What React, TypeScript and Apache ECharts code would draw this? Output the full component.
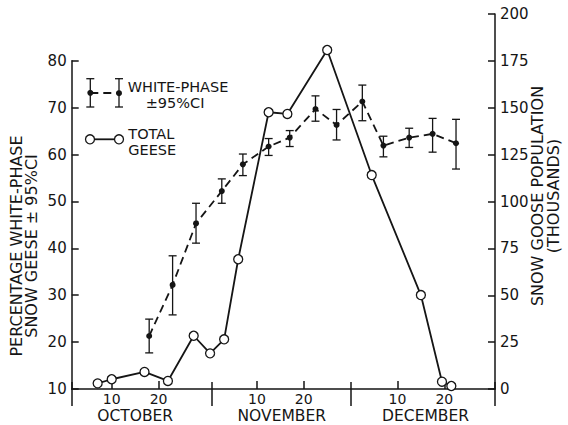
import React, { useEffect, useRef } from "react";
import * as echarts from "echarts";

// ---- data (x = day of season, 1 Oct = 1, 1 Nov = 32, 1 Dec = 62) ----
const wpDays = [18, 23, 28, 33.5, 38, 43.5, 48, 53.5, 58, 63.5, 68, 73.5, 78.5, 83.5];
const wpMean = [21.3, 32.2, 45.3, 52.2, 57.9, 61.7, 63.6, 69.7, 66.3, 71.3, 61.9, 63.6, 64.4, 62.4];
const wpLow = [17.7, 25.8, 41.1, 49.6, 55.5, 59.8, 61.7, 67.1, 63.1, 67.2, 59.5, 61.5, 60.5, 56.9];
const wpHigh = [24.9, 38.4, 49.6, 54.8, 60.1, 63.4, 65.1, 72.5, 69.6, 74.8, 63.9, 65.6, 67.7, 67.5];

const totalDays = [7, 10, 17, 22, 27.5, 31, 34, 37, 43.5, 47.5, 56, 65.5, 76, 80.5, 82.5];
const totalGeese = [3.0, 5.2, 9.1, 4.3, 28.4, 19.0, 26.5, 69.2, 147.6, 146.7, 180.8, 114.1, 50.1, 3.9, 1.6];

const leftTicks = [10, 20, 30, 40, 50, 60, 70, 80];
const rightTicks = [0, 25, 50, 75, 100, 125, 150, 175, 200];
const dayTicks = [10, 20, 41, 51, 71, 81];
const dayTickLabels = ["10", "20", "10", "20", "10", "20"];
const monthBoundaries = [31.3, 61];
const monthCenters = [15, 46.3, 77];
const monthNames = ["OCTOBER", "NOVEMBER", "DECEMBER"];

const X_MIN = 1.46;
const X_MAX = 91.82;

const INK = "#151515";
const FONT = "DejaVu Sans";

function nearestLabel(values: number[], labels: string[], v: number): string {
  let best = 0;
  for (let i = 1; i < values.length; i++) {
    if (Math.abs(values[i] - v) < Math.abs(values[best] - v)) best = i;
  }
  return Math.abs(values[best] - v) < 0.5 ? labels[best] : "";
}

export default function App() {
  const ref = useRef<HTMLDivElement>(null);

  useEffect(() => {
    if (!ref.current) return;
    const chart = echarts.init(ref.current, null, { renderer: "svg" });

    const gridCommon = { left: 71.7, right: 73, bottom: 36, containLabel: false, outerBoundsMode: "none" };

    const wpData = wpDays.map((d, i) => [d, wpMean[i]]);
    const ciData = wpDays.map((d, i) => [d, wpLow[i], wpHigh[i]]);
    const totalData = totalDays.map((d, i) => [d, totalGeese[i]]);

    const axisLineStyle = { color: INK, width: 1.5 };
    const legendText = (text: string, x: number, y: number) => ({
      type: "text",
      x,
      y,
      style: {
        text,
        fontFamily: FONT,
        fontSize: 14.5,
        lineHeight: 14,
        fill: INK,
        align: "left",
        verticalAlign: "middle",
      },
    });

    const option: any = {
      animation: false,
      backgroundColor: "#ffffff",
      grid: [
        { ...gridCommon, top: 60.7 },
        { ...gridCommon, top: 14 },
      ],
      xAxis: [
        { type: "value", gridIndex: 0, min: X_MIN, max: X_MAX, show: false },
        {
          type: "value",
          gridIndex: 1,
          min: X_MIN,
          max: X_MAX,
          position: "bottom",
          axisLine: { show: true, onZero: false, lineStyle: axisLineStyle },
          axisTick: { show: true, inside: true, length: 8, customValues: dayTicks, lineStyle: axisLineStyle },
          axisLabel: {
            show: true,
            customValues: dayTicks,
            margin: 2.5,
            color: INK,
            fontFamily: FONT,
            fontSize: 14,
            lineHeight: 14,
            formatter: (v: number) => nearestLabel(dayTicks, dayTickLabels, v),
          },
          splitLine: { show: false },
        },
        {
          type: "value",
          gridIndex: 1,
          min: X_MIN,
          max: X_MAX,
          position: "bottom",
          offset: 17,
          axisLine: { show: false, onZero: false },
          axisTick: {
            show: true,
            inside: true,
            length: 24,
            customValues: [X_MIN, ...monthBoundaries, X_MAX],
            lineStyle: axisLineStyle,
          },
          axisLabel: {
            show: true,
            customValues: monthCenters,
            margin: 2,
            color: INK,
            fontFamily: FONT,
            fontSize: 15.5,
            lineHeight: 15,
            formatter: (v: number) => nearestLabel(monthCenters, monthNames, v),
          },
          splitLine: { show: false },
        },
      ],
      yAxis: [
        {
          type: "value",
          gridIndex: 0,
          position: "left",
          min: 10,
          max: 80,
          axisLine: { show: true, onZero: false, lineStyle: axisLineStyle },
          axisTick: { show: true, inside: true, length: 7, customValues: leftTicks, lineStyle: axisLineStyle },
          axisLabel: {
            show: true,
            customValues: leftTicks,
            margin: 5,
            color: INK,
            fontFamily: FONT,
            fontSize: 15,
          },
          splitLine: { show: false },
        },
        {
          type: "value",
          gridIndex: 1,
          position: "right",
          min: 0,
          max: 200,
          axisLine: { show: true, onZero: false, lineStyle: axisLineStyle },
          axisTick: { show: true, inside: true, length: 7, customValues: rightTicks, lineStyle: axisLineStyle },
          axisLabel: {
            show: true,
            customValues: rightTicks,
            margin: 5,
            color: INK,
            fontFamily: FONT,
            fontSize: 15,
          },
          splitLine: { show: false },
        },
      ],
      series: [
        {
          name: "CI",
          type: "custom",
          xAxisIndex: 0,
          yAxisIndex: 0,
          data: ciData,
          encode: { x: 0, y: [1, 2] },
          z: 2,
          renderItem: (_params: any, api: any) => {
            const x = api.value(0);
            const p1 = api.coord([x, api.value(1)]);
            const p2 = api.coord([x, api.value(2)]);
            const w = 4;
            const style = { stroke: INK, lineWidth: 1.3, fill: "none" };
            return {
              type: "group",
              children: [
                { type: "line", shape: { x1: p1[0], y1: p1[1], x2: p2[0], y2: p2[1] }, style },
                { type: "line", shape: { x1: p1[0] - w, y1: p1[1], x2: p1[0] + w, y2: p1[1] }, style },
                { type: "line", shape: { x1: p2[0] - w, y1: p2[1], x2: p2[0] + w, y2: p2[1] }, style },
              ],
            };
          },
        },
        {
          name: "WHITE-PHASE",
          type: "line",
          xAxisIndex: 0,
          yAxisIndex: 0,
          data: wpData,
          symbol: "circle",
          symbolSize: 6,
          itemStyle: { color: INK },
          lineStyle: { color: INK, width: 1.8, type: [8, 5] },
          z: 3,
        },
        {
          name: "TOTAL GEESE",
          type: "line",
          xAxisIndex: 1,
          yAxisIndex: 1,
          data: totalData,
          symbol: "circle",
          symbolSize: 9,
          itemStyle: { color: "#ffffff", borderColor: INK, borderWidth: 1.3 },
          lineStyle: { color: INK, width: 1.8 },
          z: 4,
        },
      ],
      graphic: [
        // left axis title
        {
          type: "text",
          x: 24,
          y: 246,
          rotation: Math.PI / 2,
          style: {
            text: "PERCENTAGE WHITE-PHASE\nSNOW GEESE ± 95%CI",
            fontFamily: FONT,
            fontSize: 16,
            lineHeight: 15,
            fill: INK,
            align: "center",
            verticalAlign: "middle",
          },
        },
        // right axis title
        {
          type: "text",
          x: 545,
          y: 196,
          rotation: Math.PI / 2,
          style: {
            text: "SNOW GOOSE POPULATION\n(THOUSANDS)",
            fontFamily: FONT,
            fontSize: 16,
            lineHeight: 16,
            fill: INK,
            align: "center",
            verticalAlign: "middle",
          },
        },
        // legend: white-phase
        { type: "line", shape: { x1: 90.3, y1: 78.7, x2: 90.3, y2: 107 }, style: { stroke: INK, lineWidth: 1.3 } },
        { type: "line", shape: { x1: 86.3, y1: 78.7, x2: 94.3, y2: 78.7 }, style: { stroke: INK, lineWidth: 1.3 } },
        { type: "line", shape: { x1: 86.3, y1: 107, x2: 94.3, y2: 107 }, style: { stroke: INK, lineWidth: 1.3 } },
        { type: "line", shape: { x1: 119, y1: 78.7, x2: 119, y2: 107 }, style: { stroke: INK, lineWidth: 1.3 } },
        { type: "line", shape: { x1: 115, y1: 78.7, x2: 123, y2: 78.7 }, style: { stroke: INK, lineWidth: 1.3 } },
        { type: "line", shape: { x1: 115, y1: 107, x2: 123, y2: 107 }, style: { stroke: INK, lineWidth: 1.3 } },
        {
          type: "line",
          shape: { x1: 90.3, y1: 93, x2: 119, y2: 93 },
          style: { stroke: INK, lineWidth: 1.8, lineDash: [8, 5] },
        },
        { type: "circle", shape: { cx: 90.3, cy: 92.8, r: 3 }, style: { fill: INK } },
        { type: "circle", shape: { cx: 119, cy: 93.2, r: 3 }, style: { fill: INK } },
        legendText("WHITE-PHASE", 127.7, 86.8),
        legendText("±95%CI", 145.7, 102.8),
        // legend: total geese
        { type: "line", shape: { x1: 90, y1: 139.3, x2: 119, y2: 139.3 }, style: { stroke: INK, lineWidth: 1.8 } },
        { type: "circle", shape: { cx: 90, cy: 139.3, r: 4.5 }, style: { fill: "#ffffff", stroke: INK, lineWidth: 1.3 } },
        { type: "circle", shape: { cx: 119, cy: 139.3, r: 4.5 }, style: { fill: "#ffffff", stroke: INK, lineWidth: 1.3 } },
        legendText("TOTAL", 128.3, 133.5),
        legendText("GEESE", 128.3, 149.5),
      ],
    };

    chart.setOption(option);
    return () => chart.dispose();
  }, []);

  return (
    <div
      ref={ref}
      style={{ position: "absolute", left: 0, top: 0, width: 568, height: 425, background: "#ffffff" }}
    />
  );
}
